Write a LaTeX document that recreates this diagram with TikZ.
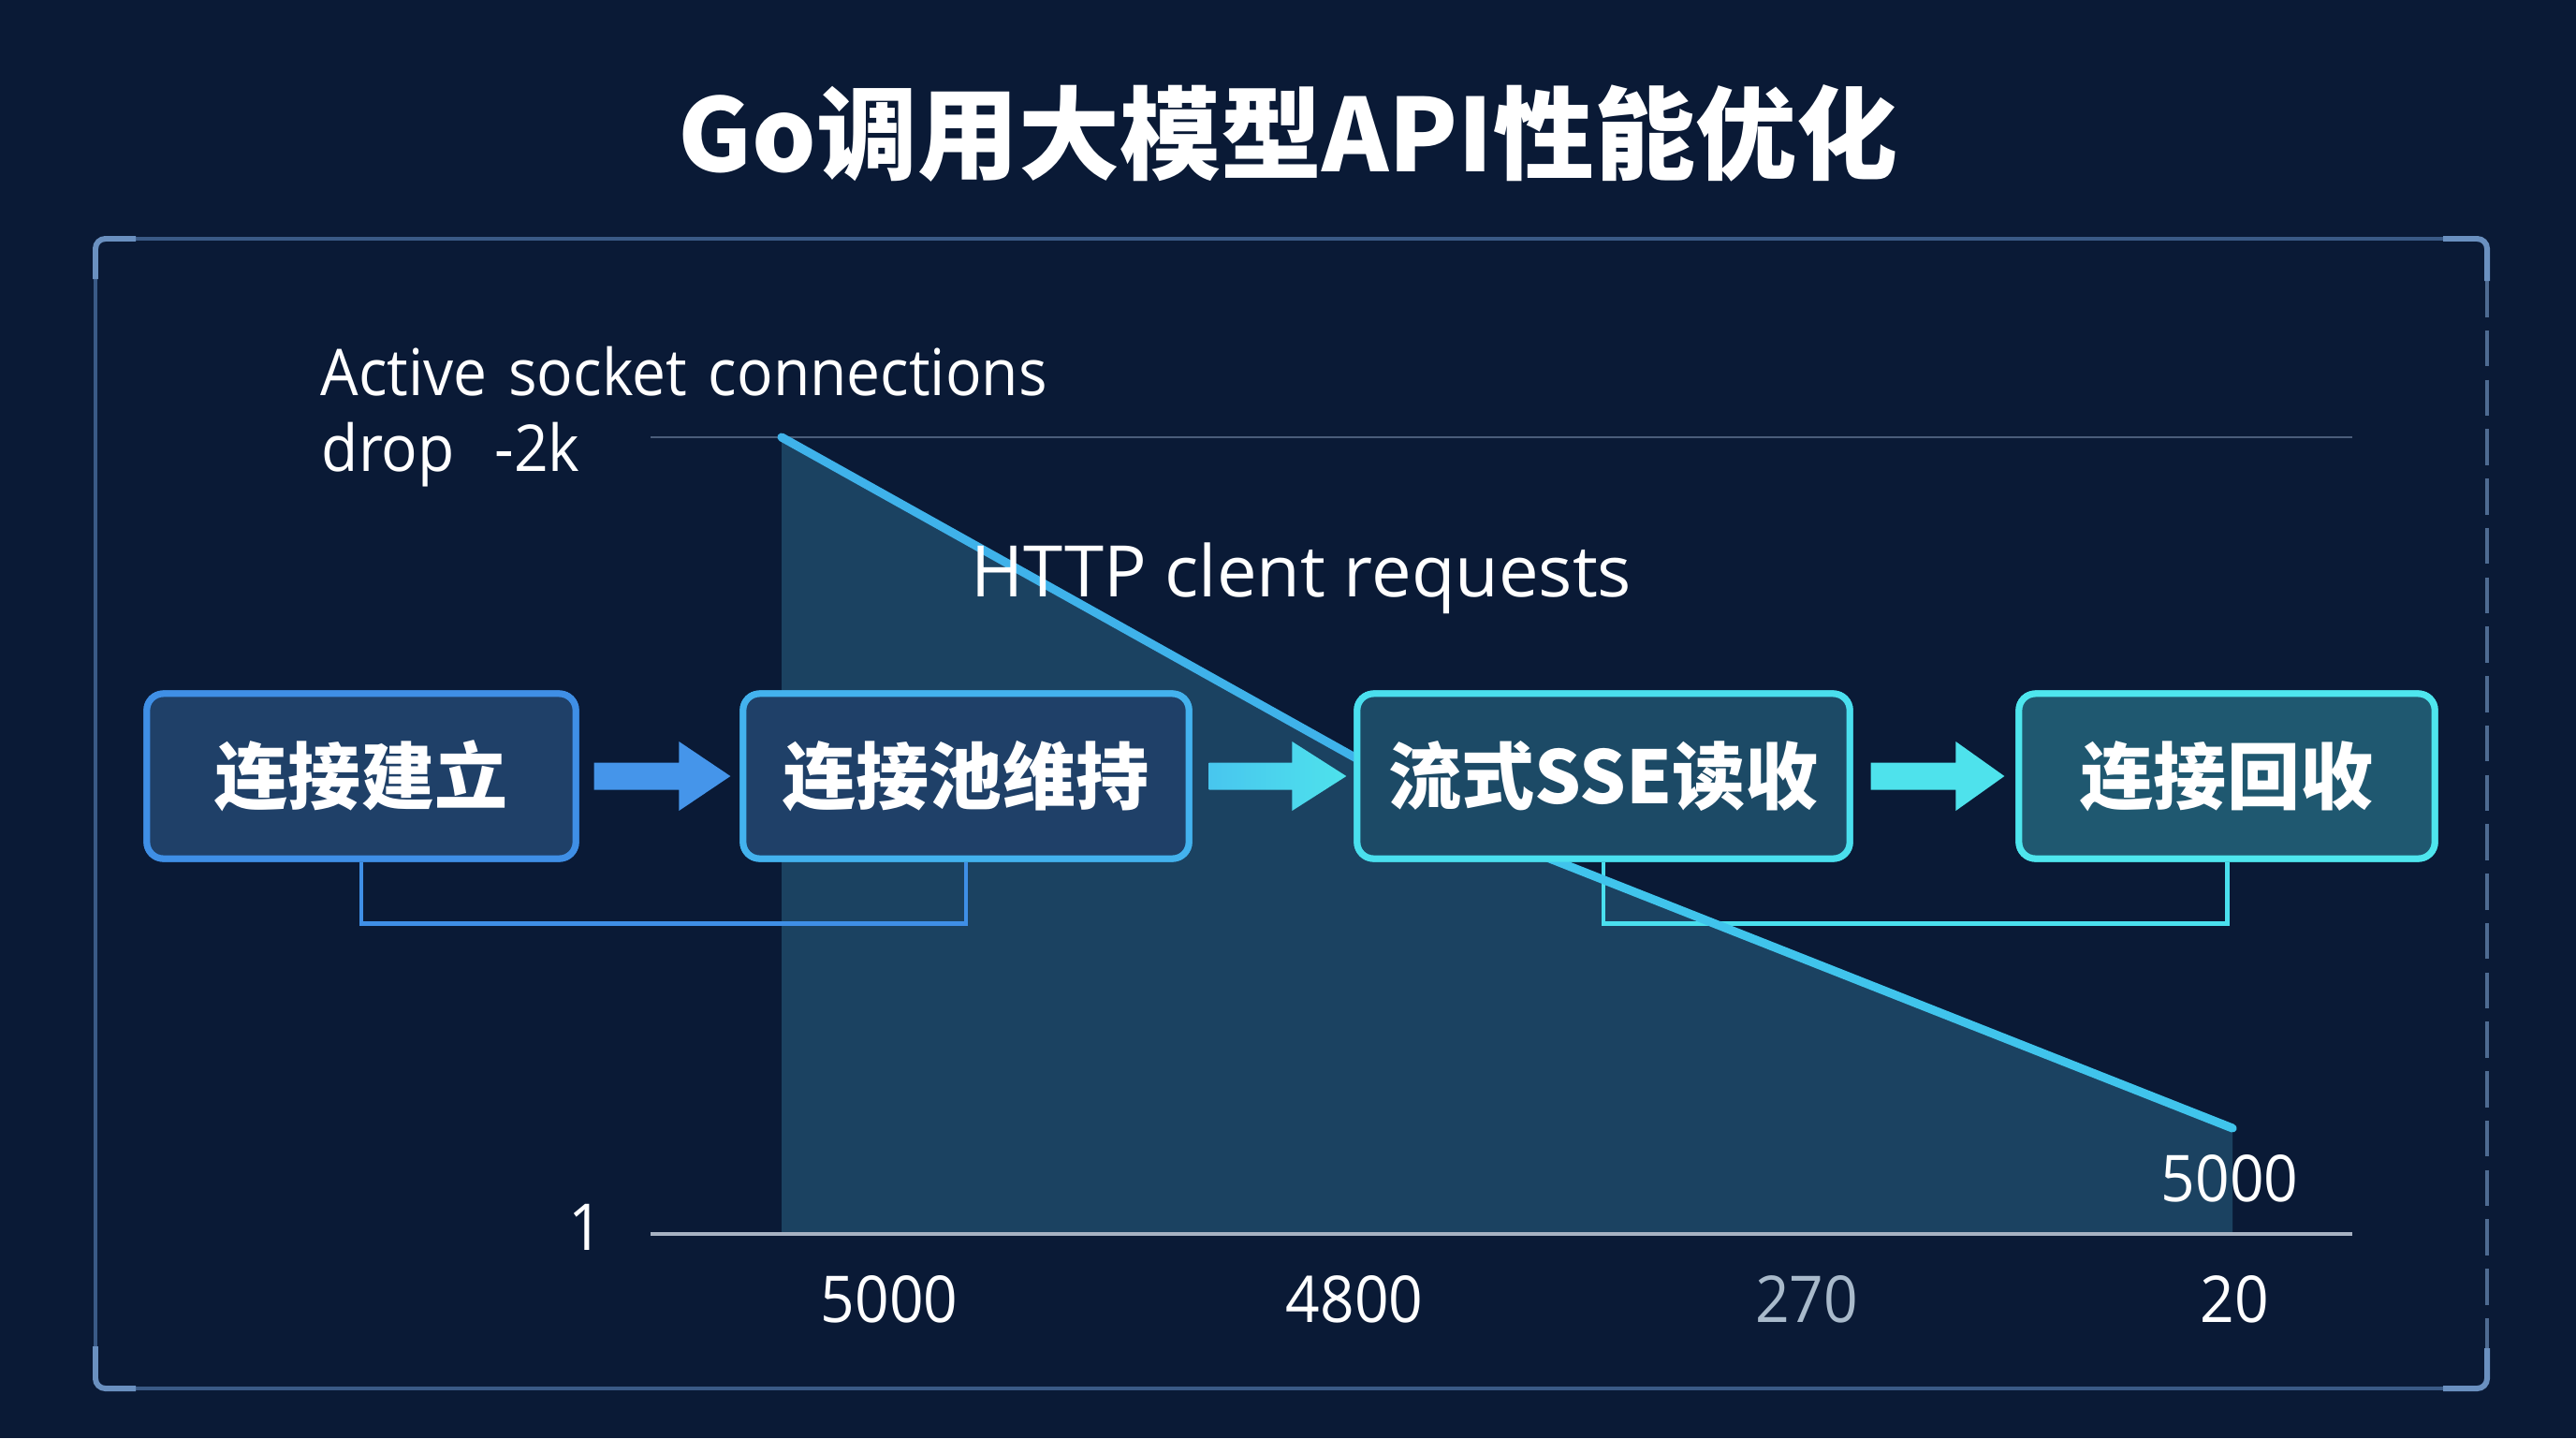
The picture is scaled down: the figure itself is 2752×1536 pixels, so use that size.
\documentclass[tikz,border=0pt]{standalone}
\usepackage{fontspec}
\newfontfamily\cjk{Noto Sans CJK SC}
\newfontfamily\lab{Open Sans}[FakeStretch=0.93]
\newfontfamily\labw{Open Sans}
\usetikzlibrary{calc}
\definecolor{bg}{HTML}{0A1A36}
\definecolor{framec}{HTML}{3A5A86}
\definecolor{framehi}{HTML}{6A90C0}
\definecolor{gridc}{HTML}{4A5D7A}
\definecolor{axisc}{HTML}{A7B2C2}
\definecolor{areac}{HTML}{1B4261}
\definecolor{linec}{HTML}{3FB2EA}
\definecolor{linec2}{HTML}{40C4EC}
\definecolor{bordA}{HTML}{3F8FE6}
\definecolor{bordB}{HTML}{43B2EE}
\definecolor{bordC}{HTML}{4ADFEE}
\definecolor{bordD}{HTML}{4EE6EE}
\definecolor{fillA}{HTML}{1F4068}
\definecolor{fillB}{HTML}{1F4068}
\definecolor{fillC}{HTML}{1C4A66}
\definecolor{fillD}{HTML}{1F5870}
\definecolor{arrA}{HTML}{4595EA}
\definecolor{arrB}{HTML}{48C6EE}
\definecolor{arrC}{HTML}{4EE2EC}
\definecolor{dimtext}{HTML}{A9BACB}
\tikzset{
  flowbox/.style={draw, line width=2pt, rounded corners=5pt, minimum height=1.76cm,
    text=white, inner sep=0pt, font=\cjk\bfseries\fontsize{22.2}{27}\selectfont},
  labtext/.style={text=white, inner sep=0pt, font=\lab\fontsize{19.6}{22}\selectfont},
  numtext/.style={text=white, inner sep=0pt, font=\lab\fontsize{19.6}{22}\selectfont},
  frameline/.style={draw=framec, line width=1.1pt},
  framehil/.style={draw=framehi, line width=1.7pt, rounded corners=3pt},
  bracket/.style={line width=1.4pt},
}
\begin{document}
\begin{tikzpicture}[x=0.01cm,y=-0.01cm]
\useasboundingbox (0,0) rectangle (2752,1536);
\fill[bg] (0,0) rectangle (2752,1536);

% title
\node[anchor=base, text=white, inner sep=0pt, font=\cjk\bfseries\fontsize{30.7}{34}\selectfont] (title) at (1376,183) {Go调用大模型API性能优化};

% frame
\draw[frameline, rounded corners=3pt] (2640,255) -- (102,255) -- (102,1483) -- (2640,1483);
\draw[framec!90!white, line width=1.3pt, dash pattern=on 11pt off 4pt] (2657,300) -- (2657,1440);
\draw[framehil] (145,255) -- (102,255) -- (102,298);
\draw[framehil] (102,1438) -- (102,1483) -- (145,1483);
\draw[framehil] (2610,255) -- (2657,255) -- (2657,300);
\draw[framehil] (2657,1440) -- (2657,1483) -- (2610,1483);

% chart
\coordinate (p0) at (835,467);
\coordinate (p1) at (1605,897);
\coordinate (p2) at (2385,1205);
\coordinate (gl) at (695,467);
\coordinate (gr) at (2513,467);
\coordinate (al) at (695,1318);
\coordinate (ar) at (2513,1318);
\fill[areac] (p0) -- (p1) -- (p2) -- (2385,1318) -- (835,1318) -- cycle;
\draw[gridc, line width=0.6pt] (gl) -- (gr);
\draw[axisc, line width=1.2pt] (al) -- (ar);

% boxes (positions)
\node[flowbox, draw=bordA, fill=fillA, minimum width=4.58cm] (b1) at (386,829) {连接建立};
\node[flowbox, draw=bordB, fill=fillB, minimum width=4.76cm] (b2) at (1032,829) {连接池维持};
\node[flowbox, draw=bordC, fill=fillC, minimum width=5.26cm] (b3) at (1713,829) {流式SSE读收};
\node[flowbox, draw=bordD, fill=fillD, minimum width=4.44cm] (b4) at (2379,829) {连接回收};

% brackets
\draw[bracket, bordA] (b1.south) -- ++(0,66) -| (b2.south);
\draw[bracket, bordC] (b3.south) -- ++(0,66) -| (b4.south);

% trend line
\draw[linec, line width=2.6pt, line cap=round, line join=round] (p0) -- (p1);
\draw[linec2, line width=2.6pt, line cap=round, line join=round] (p1) -- (p2);

% boxes on top of line
\node[flowbox, draw=bordA, fill=fillA, minimum width=4.58cm] at (b1) {连接建立};
\node[flowbox, draw=bordB, fill=fillB, minimum width=4.76cm] at (b2) {连接池维持};
\node[flowbox, draw=bordC, fill=fillC, minimum width=5.26cm] at (b3) {流式SSE读收};
\node[flowbox, draw=bordD, fill=fillD, minimum width=4.44cm] at (b4) {连接回收};

% block arrows
\fill[arrA] ($(b1.east)+(16,-14.5)$) -- ($(b2.west)+(-65,-14.5)$) -- ($(b2.west)+(-65,-37)$)
  -- ($(b2.west)+(-10,0)$) -- ($(b2.west)+(-65,37)$) -- ($(b2.west)+(-65,14.5)$) -- ($(b1.east)+(16,14.5)$) -- cycle;
\shade[left color=arrB, right color=arrC] ($(b2.east)+(18,-14.5)$) -- ($(b3.west)+(-66,-14.5)$) -- ($(b3.west)+(-66,-37)$)
  -- ($(b3.west)+(-8,0)$) -- ($(b3.west)+(-66,37)$) -- ($(b3.west)+(-66,14.5)$) -- ($(b2.east)+(18,14.5)$) -- cycle;
\fill[arrC] ($(b3.east)+(19,-14.5)$) -- ($(b4.west)+(-64,-14.5)$) -- ($(b4.west)+(-64,-37)$)
  -- ($(b4.west)+(-12,0)$) -- ($(b4.west)+(-64,37)$) -- ($(b4.west)+(-64,14.5)$) -- ($(b3.east)+(19,14.5)$) -- cycle;

% labels
\node[labtext, anchor=base west] (ta) at (342,422) {Active\hspace{0.33em}socket\hspace{0.33em}connections};
\node[labtext, anchor=base west] (tb) at (343,503) {drop\hspace{0.62em}-2k};
\node[labtext, anchor=base west, font=\labw\fontsize{21.6}{24}\selectfont] (http) at (1037,637) {HTTP clent requests};
\node[numtext, anchor=base] (one) at (626,1335) {1};
\node[numtext, anchor=base] (vend) at (2382,1283) {5000};
\node[numtext, anchor=base] (x1) at (950,1412) {5000};
\node[numtext, anchor=base] (x2) at (1447,1412) {4800};
\node[numtext, anchor=base, text=dimtext] (x3) at (1930,1412) {270};
\node[numtext, anchor=base] (x4) at (2387,1412) {20};
\end{tikzpicture}
\end{document}
